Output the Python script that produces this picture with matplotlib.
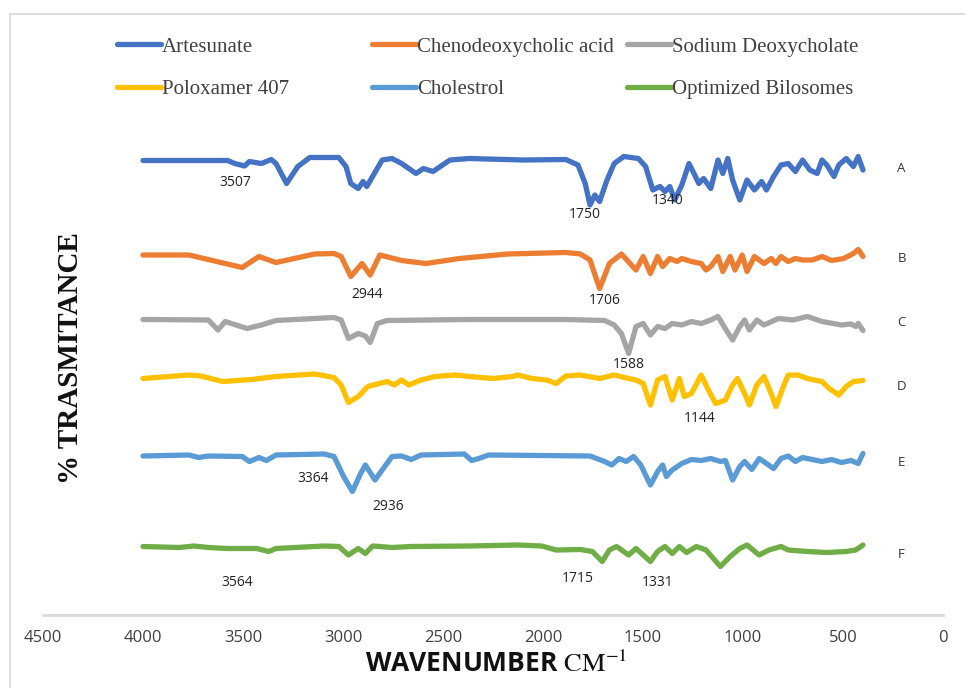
import matplotlib
matplotlib.use("Agg")
import matplotlib.pyplot as plt
from matplotlib.patches import Rectangle

# ---------------- data (wavenumber cm-1, % transmittance incl. stacking) ----------------
series_names = ["Artesunate", "Chenodeoxycholic acid", "Sodium Deoxycholate",
                "Poloxamer 407", "Cholestrol", "Optimized Bilosomes"]
series_letters = ["A", "B", "C", "D", "E", "F"]

wn_a = [4000, 3577, 3541, 3492, 3468, 3408, 3359, 3335, 3282, 3226, 3166, 3021, 2985, 2961,
        2924, 2900, 2881, 2852, 2804, 2755, 2707, 2635, 2598, 2550, 2465, 2369, 2100, 1886,
        1825, 1789, 1765, 1741, 1717, 1680, 1644, 1596, 1523, 1487, 1451, 1415, 1390, 1366,
        1342, 1306, 1270, 1245, 1221, 1197, 1161, 1125, 1101, 1076, 1052, 1016, 980, 943,
        907, 883, 847, 810, 774, 738, 702, 666, 629, 605, 581, 545, 521, 484, 448, 424, 400]
t_a = [90.9, 90.9, 90.3, 89.8, 90.7, 90.3, 91.1, 90.3, 86.3, 89.7, 91.5, 91.5, 89.7, 86.3,
       85.3, 86.7, 85.7, 87.7, 91.0, 91.3, 90.3, 88.3, 89.3, 88.7, 91.0, 91.3, 91.0, 91.1,
       90.0, 86.3, 82.0, 84.0, 82.7, 87.0, 90.3, 91.7, 91.3, 89.7, 85.0, 85.7, 84.7, 85.7,
       83.0, 86.0, 90.3, 88.3, 86.3, 87.3, 85.3, 91.0, 88.3, 91.3, 87.0, 83.0, 87.0, 85.0,
       86.7, 85.0, 87.7, 90.0, 90.3, 88.7, 91.0, 89.0, 88.3, 91.0, 90.0, 87.7, 90.0, 91.3,
       89.7, 91.7, 89.0]

wn_b = [4000, 3770, 3504, 3420, 3335, 3142, 3045, 3009, 2961, 2905, 2864, 2816, 2707, 2586,
        2417, 2176, 1886, 1813, 1765, 1717, 1668, 1608, 1535, 1499, 1463, 1427, 1402, 1366,
        1330, 1306, 1258, 1209, 1185, 1161, 1125, 1101, 1064, 1040, 1004, 980, 943, 895, 859,
        835, 810, 774, 738, 702, 654, 605, 557, 496, 448, 424, 400]
t_b = [72.0, 72.0, 69.5, 71.7, 70.5, 72.2, 72.3, 71.7, 67.7, 70.3, 68.0, 72.0, 70.9, 70.3,
       71.3, 72.2, 72.5, 72.2, 71.0, 65.3, 70.3, 72.2, 69.0, 71.7, 68.3, 71.7, 69.7, 71.3,
       70.7, 71.3, 70.7, 70.3, 69.0, 69.7, 71.7, 68.7, 71.7, 69.0, 72.0, 68.7, 71.7, 70.3, 71.3,
       70.3, 71.7, 70.7, 71.3, 71.0, 71.0, 71.7, 70.9, 71.3, 72.3, 73.1, 71.7]

wn_c = [4000, 3673, 3625, 3589, 3480, 3408, 3335, 3045, 3009, 2973, 2924, 2888, 2864, 2828,
        2780, 2369, 1886, 1692, 1644, 1608, 1572, 1535, 1499, 1463, 1427, 1390, 1354, 1306,
        1258, 1209, 1161, 1125, 1089, 1052, 1016, 992, 968, 931, 895, 823, 750, 678, 605, 508,
        460, 436, 424, 400]
t_c = [59.1, 59.0, 57.0, 58.7, 57.3, 58.0, 58.9, 59.5, 59.0, 55.3, 56.3, 55.8, 54.5, 58.3,
       58.9, 59.1, 59.1, 58.9, 58.0, 56.3, 52.3, 57.7, 58.3, 56.0, 57.7, 57.3, 58.3, 58.0,
       58.7, 58.3, 59.0, 59.7, 57.3, 55.0, 57.7, 59.0, 57.0, 59.0, 58.0, 59.3, 59.0, 59.7, 58.7,
       58.0, 58.2, 57.7, 58.3, 56.9]

wn_d = [4000, 3770, 3710, 3601, 3456, 3335, 3142, 3045, 3009, 2973, 2924, 2876, 2828, 2780,
        2743, 2707, 2671, 2610, 2538, 2441, 2369, 2248, 2151, 2127, 2055, 1982, 1934, 1886,
        1813, 1717, 1644, 1572, 1535, 1499, 1463, 1427, 1390, 1354, 1318, 1294, 1258, 1209,
        1173, 1137, 1088, 1052, 1028, 992, 968, 931, 895, 859, 835, 798, 774, 726, 678, 605,
        569, 521, 484, 448, 400]
t_d = [47.3, 48.0, 47.8, 46.7, 47.1, 47.7, 48.2, 47.5, 46.0, 42.5, 43.7, 45.7, 46.2, 46.7,
       46.0, 47.0, 46.0, 47.0, 47.7, 48.0, 47.7, 47.3, 47.7, 48.0, 47.3, 47.0, 46.3, 47.8,
       48.0, 47.3, 48.0, 47.3, 47.0, 46.3, 42.0, 47.0, 47.7, 43.0, 47.3, 43.7, 44.3, 48.0,
       45.0, 42.3, 43.0, 46.0, 47.3, 44.3, 42.0, 46.0, 47.7, 44.3, 41.7, 45.7, 48.0, 48.0, 47.3,
       46.7, 45.3, 44.0, 45.7, 46.7, 46.9]

wn_e = [4000, 3770, 3722, 3673, 3504, 3468, 3420, 3383, 3335, 3094, 3045, 2997, 2953, 2912,
        2888, 2840, 2804, 2755, 2707, 2659, 2610, 2393, 2357, 2321, 2272, 1765, 1692, 1656,
        1620, 1584, 1547, 1511, 1463, 1427, 1402, 1383, 1354, 1306, 1258, 1209, 1161, 1113,
        1088, 1052, 1016, 992, 956, 919, 883, 847, 810, 774, 738, 702, 654, 605, 557, 508, 460,
        424, 400]
t_e = [31.8, 32.0, 31.5, 31.8, 31.7, 30.7, 31.5, 30.9, 32.0, 32.2, 31.7, 27.7, 24.7, 28.3,
       30.0, 27.0, 29.0, 31.7, 31.8, 31.1, 32.0, 32.2, 30.9, 31.3, 32.0, 31.8, 30.7, 30.0,
       31.3, 30.7, 31.7, 30.0, 26.0, 28.7, 30.0, 27.7, 29.0, 30.3, 31.1, 30.9, 31.3, 30.7,
       30.9, 27.0, 29.7, 30.7, 29.1, 31.3, 30.3, 29.3, 31.3, 31.8, 30.7, 31.5, 31.1, 30.7, 31.1,
       30.5, 30.9, 30.3, 32.3]

wn_f = [4000, 3818, 3746, 3673, 3577, 3432, 3371, 3335, 3094, 3021, 2973, 2924, 2888, 2852,
        2755, 2659, 2369, 2127, 2006, 1934, 1813, 1753, 1704, 1668, 1632, 1572, 1535, 1463,
        1427, 1390, 1354, 1318, 1282, 1233, 1185, 1113, 1064, 1016, 980, 919, 871, 810, 774,
        678, 581, 484, 436, 400]
t_f = [13.7, 13.5, 13.8, 13.5, 13.3, 13.3, 12.7, 13.3, 13.8, 13.7, 12.0, 13.3, 12.3, 13.8,
       13.5, 13.7, 13.8, 14.0, 13.8, 13.0, 13.1, 12.7, 10.7, 13.0, 13.7, 12.0, 13.3, 10.7,
       12.7, 13.7, 12.3, 13.7, 12.5, 13.7, 13.0, 9.7, 11.7, 13.3, 14.0, 12.0, 13.0, 13.7, 13.0,
       12.7, 12.5, 12.7, 13.0, 14.0]

# peak annotations: (text, wavenumber, transmittance)
peak_labels = ["3507", "1750", "1340", "2944", "1706", "1588", "1144",
               "3364", "2936", "3564", "1715", "1331"]
peak_wn = [3540, 1790, 1375, 2880, 1690, 1570, 1215, 3150, 2775, 3530, 1825, 1425]
peak_t = [86.6, 80.0, 83.0, 64.2, 63.0, 50.2, 39.4, 27.4, 21.6, 6.6, 7.4, 6.4]

letter_wn = [207, 207, 207, 207, 207, 207]
letter_t = [89.2, 71.2, 58.4, 45.6, 30.4, 12.0]

x_ticks = [4500, 4000, 3500, 3000, 2500, 2000, 1500, 1000, 500, 0]

colors = ["#4472C4", "#ED7D31", "#A5A5A5", "#FFC000", "#5B9BD5", "#70AD47"]

# ---------------- figure ----------------
plt.rcParams["mathtext.fontset"] = "stix"
fig = plt.figure(figsize=(9.65, 6.88), dpi=100)
fig.patches.append(Rectangle((10 / 965, -0.1), 1.2, 1.1 - 14 / 688, transform=fig.transFigure,
                             fill=False, edgecolor="#d9d9d9", linewidth=1.2))

ax = fig.add_axes([43 / 965, 73 / 688, 900 / 965, 500 / 688])
xs = [wn_a, wn_b, wn_c, wn_d, wn_e, wn_f]
ys = [t_a, t_b, t_c, t_d, t_e, t_f]
handles = []
for x, y, c, n in zip(xs, ys, colors, series_names):
    h, = ax.plot(x, y, color=c, lw=3.8, solid_joinstyle="round", solid_capstyle="round", label=n)
    handles.append(h)

ax.set_xlim(4500, 0)
ax.set_ylim(0, 100)
ax.set_xticks(x_ticks)
ax.set_xticklabels([str(v) for v in x_ticks], fontfamily="Open Sans", fontsize=12, color="#404040")
ax.set_yticks([])
ax.tick_params(axis="x", length=0, pad=11)
for s in ["left", "right", "top"]:
    ax.spines[s].set_visible(False)
ax.spines["bottom"].set_color("#d9d9d9")
ax.spines["bottom"].set_linewidth(2)
ax.patch.set_alpha(0)

for txt, w, t in zip(peak_labels, peak_wn, peak_t):
    ax.text(w, t, txt, ha="center", va="center", fontsize=10, fontfamily="Open Sans",
            color="#222222")
for txt, w, t in zip(series_letters, letter_wn, letter_t):
    ax.text(w, t, txt, ha="center", va="center", fontsize=9.5, fontfamily="Open Sans",
            color="#333333")

# legend: three columns of two rows
col_groups = [[0, 3], [1, 4], [2, 5]]
col_x = [117, 372, 627]
for grp, cx in zip(col_groups, col_x):
    leg = fig.legend([handles[i] for i in grp], [series_names[i] for i in grp],
                     loc="upper left", bbox_to_anchor=(cx / 965, 1 - 37 / 688),
                     frameon=False, borderpad=0, borderaxespad=0, handlelength=2.1,
                     handletextpad=0.05, labelspacing=1.1,
                     prop={"family": "Liberation Serif", "size": 15})
    for t in leg.get_texts():
        t.set_color("#404040")

fig.text(70 / 965, 1 - 358 / 688, "% TRASMITANCE", rotation=90, ha="center", va="center",
         fontfamily="Liberation Serif", fontweight="bold", fontsize=21, color="#111111")
fig.text(496 / 965, 1 - 665 / 688, r"WAVENUMBER $\mathrm{CM}^{\mathrm{-1}}$", ha="center",
         va="center", fontfamily="Open Sans", fontweight="bold", fontsize=19, color="#111111")

fig.savefig("out.png", dpi=100)
